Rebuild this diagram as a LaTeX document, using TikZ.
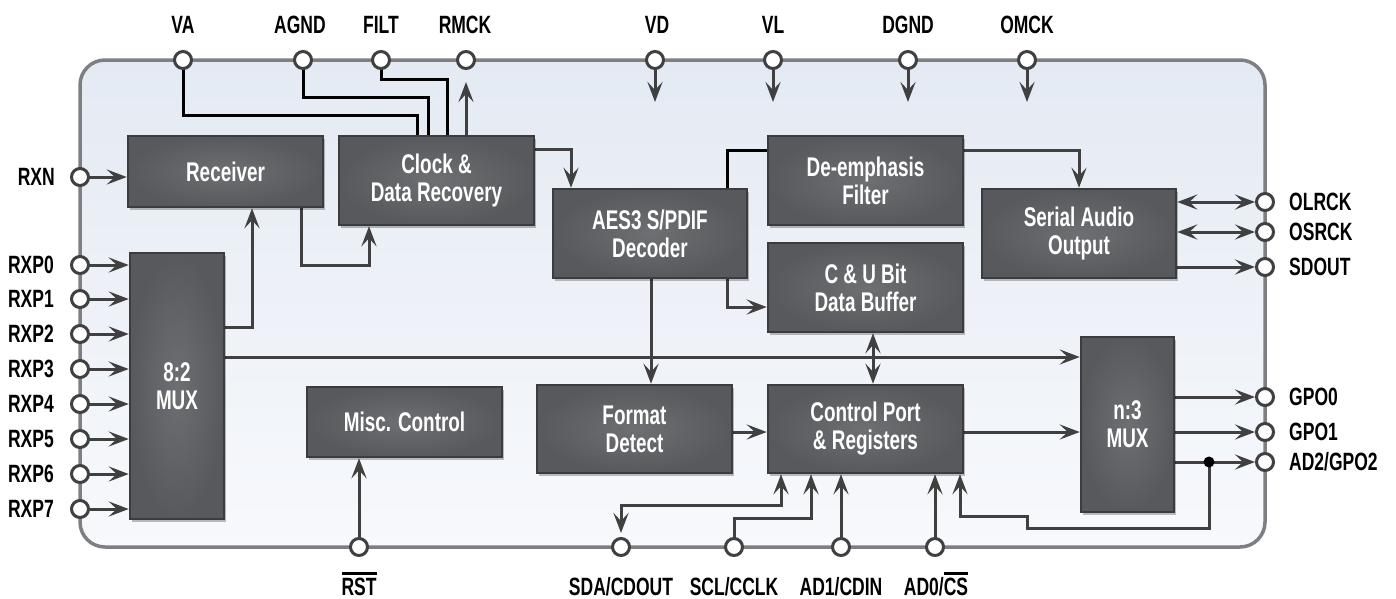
\documentclass[tikz,border=0pt]{standalone}
\usepackage{fontspec}
\setmainfont{Liberation Sans}[FakeStretch=0.7]
\usetikzlibrary{arrows.meta,shadows}
\definecolor{wirec}{HTML}{404040}
\definecolor{boxb}{HTML}{3C3C3E}
\definecolor{boxi}{HTML}{6E6F72}
\definecolor{boxo}{HTML}{58595C}
\definecolor{outc}{HTML}{7D7F83}
\definecolor{bgt}{HTML}{E4EAF3}
\definecolor{bgb}{HTML}{F7F9FC}
\pgfdeclarelayer{back}
\pgfdeclarelayer{mid}
\pgfsetlayers{back,mid,main}
\newcommand\ovl[1]{\leavevmode\vbox{\hrule height 2.2pt\kern 3pt\hbox{#1}}}
\tikzset{
  outerbox/.style={draw=outc, line width=3.5pt, rounded corners=25pt, top color=bgt, bottom color=bgb},
  blk/.style={draw=boxb, line width=2.5pt, inner color=boxi, outer color=boxo, text=white,
    font=\bfseries\fontsize{27}{28}\selectfont, align=center, inner sep=0pt,
    drop shadow={shadow xshift=2pt, shadow yshift=-3pt, opacity=0.25, fill=black}},
  pinc/.style={circle, draw=wirec, fill=white, line width=3pt, minimum size=17pt, inner sep=0pt},
  lab/.style={font=\bfseries\fontsize{25}{26}\selectfont, inner sep=0pt, text=black},
  wire/.style={draw=wirec, line width=3pt},
  bwire/.style={draw=black, line width=3pt},
  dotc/.style={circle, fill=black, minimum size=11pt, inner sep=0pt},
  hd/.tip={Stealth[length=20pt,width=15pt,inset=8pt]},
  ar/.style={-hd},
  dar/.style={hd-hd},
}
\begin{document}
\begin{tikzpicture}[x=1pt,y=-1pt]
\useasboundingbox (0,0) rectangle (1396,598);
\begin{pgfonlayer}{back}
\path[outerbox] (80,60) rectangle (1265,547);
\end{pgfonlayer}

% blocks
\node[blk, minimum width=195, minimum height=71] (rec) at (225.5,171.5) {Receiver};
\node[blk, minimum width=195, minimum height=89] (cdr) at (436.5,180.5) {Clock \&\\Data Recovery};
\node[blk, minimum width=194, minimum height=89] (aes) at (650,233.5) {AES3 S/PDIF\\Decoder};
\node[blk, minimum width=195, minimum height=89] (dem) at (865.5,180.5) {De-emphasis\\Filter};
\node[blk, minimum width=195, minimum height=89] (cub) at (865.5,287.5) {C \& U Bit\\Data Buffer};
\node[blk, minimum width=194, minimum height=89] (sao) at (1079,233.5) {Serial Audio\\Output};
\node[blk, minimum width=195, minimum height=88] (fmt) at (634.5,429) {Format\\Detect};
\node[blk, minimum width=195, minimum height=88] (cpr) at (865.5,429) {Control Port\\\& Registers};
\node[blk, minimum width=93, minimum height=175] (nmux) at (1127.5,424.5) {n:3\\MUX};
\node[blk, minimum width=94, minimum height=266] (mux) at (177,386) {8:2\\MUX};
\node[blk, minimum width=195, minimum height=70] (misc) at (404.5,422) {Misc. Control};

% top pins
\node[pinc] (va) at (183,60) {};
\node[pinc] (agnd) at (303,60) {};
\node[pinc] (filt) at (381,60) {};
\node[pinc] (rmck) at (466,60) {};
\node[pinc] (vd) at (655,60) {};
\node[pinc] (vl) at (773,60) {};
\node[pinc] (dgnd) at (908,60) {};
\node[pinc] (omck) at (1027,60) {};
\node[lab, anchor=base] (lva) at (183,33) {VA};
\node[lab, anchor=base] (lagnd) at (300,33) {AGND};
\node[lab, anchor=base] (lfilt) at (381,33) {FILT};
\node[lab, anchor=base] (lrmck) at (465,33) {RMCK};
\node[lab, anchor=base] (lvd) at (657,33) {VD};
\node[lab, anchor=base] (lvl) at (773,33) {VL};
\node[lab, anchor=base] (ldgnd) at (908,33) {DGND};
\node[lab, anchor=base] (lomck) at (1027,33) {OMCK};

% left pins
\node[pinc] (rxn) at (80,177) {};
\node[lab, anchor=base east] (lrxn) at (55,185.5) {RXN};
\foreach \i/\y in {0/265,1/299,2/334,3/369,4/404,5/439,6/474,7/509}{
  \node[pinc] (rxp\i) at (80,\y) {};
  \node[lab, anchor=base east] (lrxp\i) at (54,\y+8.5) {RXP\i};
}

% right pins
\node[pinc] (olrck) at (1265,202) {};
\node[pinc] (osrck) at (1265,232) {};
\node[pinc] (sdout) at (1265,267) {};
\node[pinc] (gpo0) at (1265,397) {};
\node[pinc] (gpo1) at (1265,432) {};
\node[pinc] (gpo2) at (1265,462) {};
\node[lab, anchor=base west] (lolrck) at (1289,210.5) {OLRCK};
\node[lab, anchor=base west] (losrck) at (1289,240.5) {OSRCK};
\node[lab, anchor=base west] (lsdout) at (1289,275.5) {SDOUT};
\node[lab, anchor=base west] (lgpo0) at (1289,405.5) {GPO0};
\node[lab, anchor=base west] (lgpo1) at (1289,440.5) {GPO1};
\node[lab, anchor=base west] (lgpo2) at (1289,470.5) {AD2/GPO2};

% bottom pins
\node[pinc] (rst) at (359,547) {};
\node[pinc] (sda) at (621,547) {};
\node[pinc] (scl) at (734,547) {};
\node[pinc] (ad1) at (841,547) {};
\node[pinc] (ad0) at (935,547) {};
\node[lab, anchor=base] (lrst) at (359,595) {\ovl{RST}};
\node[lab, anchor=base] (lsda) at (621,595) {SDA/CDOUT};
\node[lab, anchor=base] (lscl) at (734,595) {SCL/CCLK};
\node[lab, anchor=base] (lad1) at (841,595) {AD1/CDIN};
\node[lab, anchor=base] (lad0) at (936,595) {AD0/\ovl{CS}};

\node[dotc] (dot) at (1209,462) {};

\begin{pgfonlayer}{mid}
% top
\draw[bwire] (va.center) |- (417,115) -- (417,0 |- cdr.north);
\draw[bwire] (agnd.center) |- (428,97) -- (428,0 |- cdr.north);
\draw[bwire] (filt.center) |- (447,79) -- (447,0 |- cdr.north);
\draw[wire,ar,shorten >=12pt] (466,0 |- cdr.north) -- (rmck.south);
\draw[wire,ar] (vd.center) -- ++(0,42);
\draw[wire,ar] (vl.center) -- ++(0,42);
\draw[wire,ar] (dgnd.center) -- ++(0,42);
\draw[wire,ar] (omck.center) -- ++(0,42);
% left
\draw[wire,ar] (rxn.center) -- (rec.west |- rxn.center);
\foreach \i in {0,...,7}{
  \draw[wire,ar] (rxp\i.center) -- (mux.west |- rxp\i.center);
}
\draw[wire,ar] (mux.east |- 0,327) -| (252,0 |- rec.south);
\draw[wire,ar] (mux.east |- 0,357) -- (nmux.west |- 0,357);
\draw[wire,ar] (301,0 |- rec.south) |- (369,265) -- (369,0 |- cdr.south);
\draw[wire,ar] (cdr.east |- 0,149) -| (571,0 |- aes.north);
\draw[bwire] (727,0 |- aes.north) |- (dem.west |- 0,150);
\draw[wire,ar] (dem.east |- 0,150) -| (1079,0 |- sao.north);
\draw[wire,ar] (727,0 |- aes.south) |- (cub.west |- 0,307);
\draw[wire,ar] (651,0 |- aes.south) -- (651,0 |- fmt.north);
\draw[wire,dar] (873,0 |- cub.south) -- (873,0 |- cpr.north);
\draw[wire,ar] (fmt.east |- 0,432) -- (cpr.west |- 0,432);
\draw[wire,ar] (cpr.east |- 0,432) -- (nmux.west |- 0,432);
% right
\draw[wire,dar] (sao.east |- olrck) -- (olrck);
\draw[wire,dar] (sao.east |- osrck) -- (osrck);
\draw[wire,ar] (sao.east |- sdout) -- (sdout);
\draw[wire,ar] (nmux.east |- gpo0) -- (gpo0);
\draw[wire,ar] (nmux.east |- gpo1) -- (gpo1);
\draw[wire,ar] (nmux.east |- gpo2) -- (gpo2);
\draw[wire,ar] (dot.center) |- (1027,528) |- (960,516) -- (960,0 |- cpr.south);
% bottom
\draw[wire,dar,shorten >=4pt] (781,0 |- cpr.south) |- (621,505) -- (sda);
\draw[wire,ar] (scl.center) |- (811,518) -- (811,0 |- cpr.south);
\draw[wire,ar] (ad1.center) -- (ad1 |- cpr.south);
\draw[wire,ar] (ad0.center) -- (ad0 |- cpr.south);
\draw[wire,ar] (rst.center) -- (rst |- misc.south);
\end{pgfonlayer}
\end{tikzpicture}
\end{document}
